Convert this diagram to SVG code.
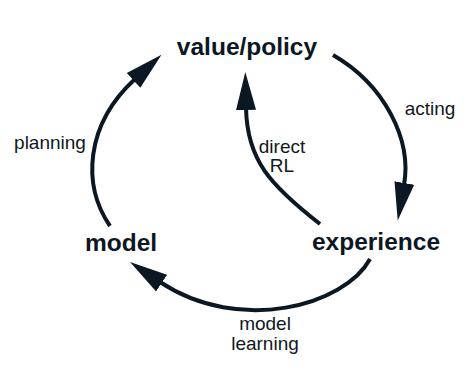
<svg xmlns="http://www.w3.org/2000/svg" width="471" height="372" viewBox="0 0 471 372">
<style>
.node{font-family:"Liberation Sans",Arial,Helvetica,sans-serif;font-weight:bold;font-size:24.5px;fill:#0b1722;text-anchor:middle}
.lbl{font-family:"Liberation Sans",Arial,Helvetica,sans-serif;font-size:19px;fill:#111820;text-anchor:middle}
.edge{fill:none;stroke:#0b1722;stroke-width:4;stroke-linecap:butt}
</style>
<defs>
<marker id="ah" markerUnits="userSpaceOnUse" markerWidth="40" markerHeight="22" viewBox="0 -11 40 22" refX="2" refY="0" orient="auto">
<path d="M0,-10 L38,0 L0,10 z" fill="#0b1722"/>
</marker>
</defs>
<rect width="471" height="372" fill="#ffffff"/>
<g id="connectors">
<path id="acting" class="edge" d="M333,55 C385,85 412,140 404,185" marker-end="url(#ah)"/>
<path id="planning" class="edge" d="M110,226 C82,185 85,125 135,79" marker-end="url(#ah)"/>
<path id="modellearning" class="edge" d="M370,259 C345,305 240,335 160,282" marker-end="url(#ah)"/>
<path id="directrl" class="edge" d="M320,224 C270,185 247,160 246,108" marker-end="url(#ah)"/>
<text class="lbl" x="430" y="115">acting</text>
<text class="lbl" x="50" y="149">planning</text>
<text class="lbl" x="282" y="153">direct</text>
<text class="lbl" x="282" y="172">RL</text>
<text class="lbl" x="265" y="330">model</text>
<text class="lbl" x="265" y="350">learning</text>
</g>
<g id="value-policy"><text class="node" x="247" y="55">value/policy</text></g>
<g id="model"><text class="node" x="121" y="251">model</text></g>
<g id="experience"><text class="node" x="376" y="250">experience</text></g>
</svg>
